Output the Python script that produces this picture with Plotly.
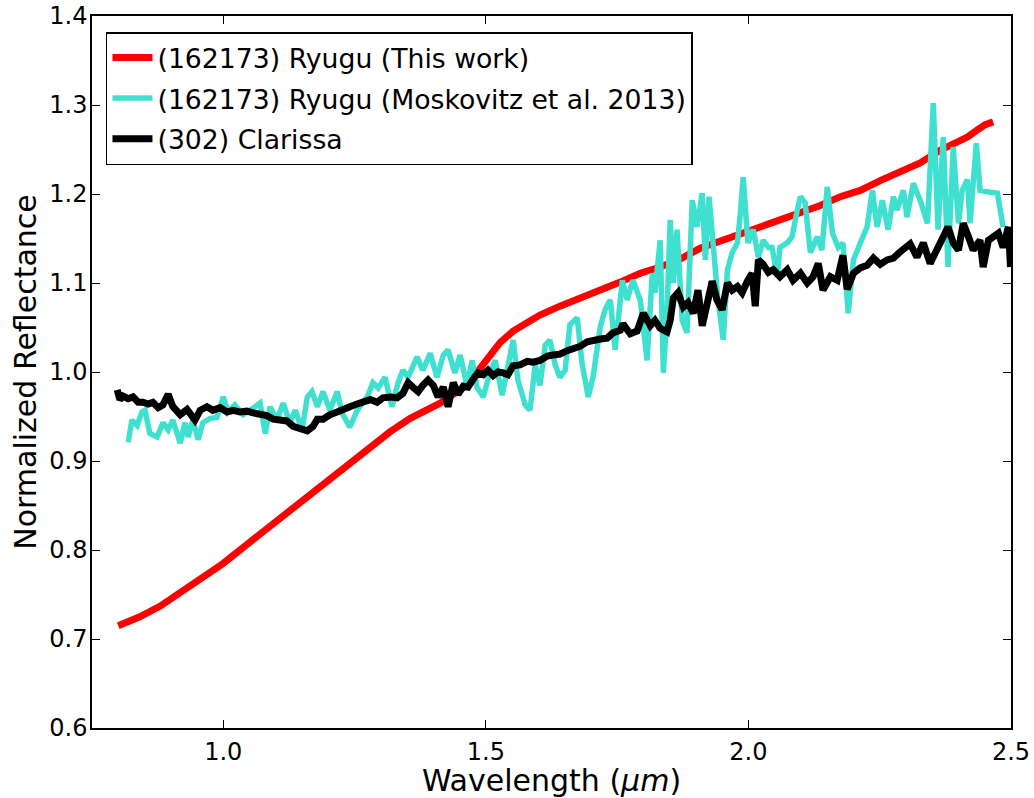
import plotly.graph_objects as go

# ---- data ----
ryugu_this_x = [0.800, 0.841, 0.880, 0.918, 0.956, 1.000, 1.051, 1.089, 1.127, 1.165, 1.203, 1.241,
                1.280, 1.318, 1.356, 1.384, 1.413, 1.451, 1.470, 1.489, 1.508, 1.527, 1.552, 1.579,
                1.603, 1.641, 1.680, 1.718, 1.756, 1.794, 1.832, 1.870, 1.908, 1.946, 1.984, 2.022,
                2.060, 2.099, 2.137, 2.175, 2.213, 2.251, 2.289, 2.327, 2.365, 2.394, 2.417, 2.436,
                2.451, 2.466]
ryugu_this_y = [0.715, 0.725, 0.737, 0.752, 0.767, 0.785, 0.809, 0.827, 0.845, 0.862, 0.880, 0.898,
                0.916, 0.933, 0.948, 0.957, 0.965, 0.980, 0.989, 1.004, 1.020, 1.033, 1.046, 1.056,
                1.064, 1.074, 1.084, 1.092, 1.101, 1.111, 1.118, 1.127, 1.139, 1.147, 1.153, 1.162,
                1.170, 1.178, 1.187, 1.197, 1.204, 1.215, 1.224, 1.235, 1.249, 1.257, 1.264, 1.272,
                1.278, 1.281]

ryugu_mosk_x = [0.819, 0.826, 0.836, 0.845, 0.851, 0.860, 0.874, 0.885, 0.895, 0.904, 0.918, 0.927,
                0.933, 0.942, 0.952, 0.961, 0.975, 0.988, 1.000, 1.009, 1.022, 1.038, 1.051, 1.070,
                1.080, 1.089, 1.102, 1.114, 1.127, 1.137, 1.150, 1.160, 1.169, 1.179, 1.190, 1.203,
                1.217, 1.226, 1.241, 1.255, 1.274, 1.285, 1.295, 1.308, 1.321, 1.333, 1.342, 1.352,
                1.369, 1.380, 1.394, 1.407, 1.419, 1.428, 1.441, 1.451, 1.464, 1.474, 1.483, 1.495,
                1.508, 1.518, 1.531, 1.540, 1.552, 1.561, 1.575, 1.584, 1.594, 1.603, 1.613, 1.622,
                1.632, 1.641, 1.651, 1.660, 1.674, 1.683, 1.695, 1.704, 1.718, 1.727, 1.737, 1.746,
                1.760, 1.769, 1.780, 1.794, 1.807, 1.817, 1.822, 1.832, 1.838, 1.845, 1.851, 1.857,
                1.864, 1.874, 1.883, 1.893, 1.902, 1.912, 1.918, 1.925, 1.933, 1.942, 1.952, 1.960,
                1.969, 1.979, 1.984, 1.990, 1.999, 2.009, 2.019, 2.028, 2.038, 2.045, 2.055, 2.060,
                2.074, 2.083, 2.093, 2.099, 2.108, 2.118, 2.131, 2.140, 2.150, 2.160, 2.171, 2.180,
                2.190, 2.200, 2.213, 2.226, 2.236, 2.245, 2.255, 2.266, 2.276, 2.283, 2.295, 2.302,
                2.314, 2.327, 2.341, 2.352, 2.361, 2.371, 2.380, 2.390, 2.400, 2.407, 2.417, 2.422,
                2.434, 2.441, 2.460, 2.474, 2.485]
ryugu_mosk_y = [0.921, 0.946, 0.940, 0.955, 0.957, 0.931, 0.927, 0.943, 0.935, 0.946, 0.920, 0.943,
                0.927, 0.946, 0.924, 0.943, 0.948, 0.949, 0.972, 0.955, 0.963, 0.952, 0.957, 0.965,
                0.931, 0.961, 0.946, 0.965, 0.943, 0.957, 0.935, 0.972, 0.978, 0.961, 0.978, 0.957,
                0.978, 0.954, 0.938, 0.957, 0.972, 0.988, 0.982, 0.994, 0.961, 0.988, 1.002, 0.994,
                1.017, 1.002, 1.021, 0.994, 1.019, 1.025, 0.999, 1.019, 0.985, 1.013, 0.983, 0.972,
                1.000, 1.013, 0.974, 1.000, 1.036, 0.991, 0.963, 0.957, 1.008, 0.985, 1.030, 1.036,
                1.008, 0.994, 1.002, 1.053, 1.061, 1.010, 0.972, 0.994, 1.051, 1.070, 1.081, 1.025,
                1.103, 1.081, 1.103, 1.081, 1.013, 1.111, 1.089, 1.148, 0.999, 1.066, 1.171, 1.100,
                1.160, 1.058, 1.044, 1.193, 1.163, 1.201, 1.126, 1.197, 1.134, 1.081, 1.036, 1.115,
                1.134, 1.145, 1.174, 1.219, 1.145, 1.160, 1.129, 1.148, 1.140, 1.140, 1.107, 1.140,
                1.145, 1.152, 1.182, 1.197, 1.190, 1.134, 1.152, 1.137, 1.208, 1.156, 1.140, 1.145,
                1.066, 1.126, 1.145, 1.163, 1.204, 1.163, 1.193, 1.160, 1.197, 1.182, 1.204, 1.174,
                1.212, 1.193, 1.167, 1.302, 1.160, 1.264, 1.118, 1.253, 1.167, 1.204, 1.216, 1.167,
                1.257, 1.204, 1.202, 1.201, 1.163]

clarissa_x = [0.798, 0.803, 0.809, 0.819, 0.828, 0.838, 0.847, 0.857, 0.866, 0.876, 0.885, 0.895,
              0.904, 0.918, 0.931, 0.946, 0.956, 0.969, 0.980, 0.994, 1.007, 1.019, 1.032, 1.045,
              1.057, 1.070, 1.083, 1.095, 1.108, 1.121, 1.133, 1.146, 1.152, 1.160, 1.171, 1.179,
              1.190, 1.203, 1.217, 1.228, 1.241, 1.255, 1.266, 1.280, 1.293, 1.304, 1.318, 1.331,
              1.342, 1.352, 1.361, 1.371, 1.380, 1.390, 1.400, 1.409, 1.419, 1.428, 1.438, 1.447,
              1.457, 1.466, 1.476, 1.485, 1.495, 1.504, 1.514, 1.523, 1.533, 1.542, 1.552, 1.565,
              1.579, 1.590, 1.603, 1.617, 1.628, 1.641, 1.655, 1.666, 1.680, 1.693, 1.704, 1.718,
              1.731, 1.742, 1.756, 1.761, 1.775, 1.788, 1.800, 1.813, 1.822, 1.832, 1.845, 1.851,
              1.857, 1.866, 1.876, 1.885, 1.895, 1.904, 1.912, 1.921, 1.931, 1.940, 1.950, 1.960,
              1.969, 1.979, 1.988, 1.998, 2.007, 2.013, 2.019, 2.028, 2.038, 2.047, 2.060, 2.074,
              2.085, 2.099, 2.112, 2.123, 2.133, 2.142, 2.156, 2.169, 2.180, 2.188, 2.200, 2.213,
              2.226, 2.238, 2.251, 2.264, 2.276, 2.289, 2.299, 2.308, 2.321, 2.333, 2.346, 2.360,
              2.371, 2.380, 2.390, 2.400, 2.409, 2.419, 2.428, 2.441, 2.447, 2.457, 2.466, 2.476,
              2.485, 2.495, 2.499]
clarissa_y = [0.980, 0.969, 0.973, 0.970, 0.972, 0.966, 0.966, 0.964, 0.966, 0.960, 0.963, 0.975,
              0.961, 0.952, 0.958, 0.946, 0.957, 0.961, 0.957, 0.960, 0.955, 0.957, 0.955, 0.956,
              0.954, 0.952, 0.951, 0.947, 0.945, 0.945, 0.939, 0.936, 0.935, 0.934, 0.939, 0.947,
              0.947, 0.952, 0.955, 0.957, 0.961, 0.964, 0.966, 0.969, 0.966, 0.971, 0.972, 0.971,
              0.976, 0.988, 0.983, 0.978, 0.985, 0.991, 0.985, 0.972, 0.983, 0.961, 0.988, 0.975,
              0.984, 0.983, 0.992, 0.999, 0.997, 1.002, 0.996, 1.000, 0.999, 0.997, 1.007, 1.008,
              1.012, 1.011, 1.013, 1.018, 1.019, 1.020, 1.024, 1.026, 1.029, 1.034, 1.036, 1.037,
              1.038, 1.044, 1.047, 1.054, 1.043, 1.046, 1.066, 1.052, 1.058, 1.049, 1.045, 1.058,
              1.083, 1.089, 1.073, 1.078, 1.066, 1.092, 1.052, 1.078, 1.102, 1.081, 1.070, 1.100,
              1.092, 1.096, 1.089, 1.102, 1.111, 1.074, 1.126, 1.121, 1.112, 1.115, 1.107, 1.115,
              1.103, 1.111, 1.100, 1.107, 1.122, 1.092, 1.107, 1.103, 1.131, 1.093, 1.111, 1.117,
              1.120, 1.128, 1.121, 1.126, 1.128, 1.135, 1.139, 1.144, 1.129, 1.145, 1.122, 1.137,
              1.152, 1.163, 1.145, 1.137, 1.167, 1.152, 1.137, 1.148, 1.118, 1.148, 1.152, 1.156,
              1.140, 1.163, 1.118]

series_names = ["(162173) Ryugu (This work)",
                "(162173) Ryugu (Moskovitz et al. 2013)",
                "(302) Clarissa"]
series_colors = ["#ff0000", "#40e0d0", "#000000"]

x_ticks = [1.0, 1.5, 2.0, 2.5]
y_ticks = [0.6, 0.7, 0.8, 0.9, 1.0, 1.1, 1.2, 1.3, 1.4]

FONT = "DejaVu Sans"

fig = go.Figure()
data_sets = [(ryugu_this_x, ryugu_this_y, 7),
             (ryugu_mosk_x, ryugu_mosk_y, 5.5),
             (clarissa_x, clarissa_y, 7)]
for i, ((xs, ys, w), name, col) in enumerate(zip(data_sets, series_names, series_colors)):
    fig.add_trace(go.Scatter(x=xs, y=ys, mode="lines", name=name,
                             legendgroup=f"g{i}",
                             line=dict(color=col, width=w)))

axis_common = dict(showgrid=False, zeroline=False, showline=True, linecolor="black",
                   linewidth=1.5, mirror="ticks", ticks="inside", ticklen=8, tickwidth=1,
                   tickcolor="black", tickfont=dict(family=FONT, size=24, color="black"),
                   ticklabeloverflow="allow", automargin=False)

fig.update_layout(
    width=1034, height=798,
    margin=dict(l=92, r=23, t=16, b=70),
    paper_bgcolor="white", plot_bgcolor="white",
    font=dict(family=FONT, color="black"),
    showlegend=True,
    legend=dict(x=0.0152, y=0.9775, xanchor="left", yanchor="top",
                bordercolor="black", borderwidth=1.5, bgcolor="white",
                font=dict(family=FONT, size=26.7, color="black"),
                itemwidth=40,
                traceorder="grouped", tracegroupgap=3),
    xaxis=dict(range=[0.75, 2.5], tickvals=x_ticks, tickformat=".1f",
               ticklabelstandoff=1,
               title=dict(text="Wavelength (<i>μm</i>)", font=dict(family=FONT, size=30),
                          standoff=10),
               **axis_common),
    yaxis=dict(range=[0.6, 1.4], tickvals=y_ticks, tickformat=".1f",
               ticklabelstandoff=-2,
               title=dict(text="Normalized Reflectance", font=dict(family=FONT, size=30),
                          standoff=4),
               **axis_common),
)

# remove the default page margin so the figure fills the 1034x798 window exactly
fig.write_html("out.html",
               config={"displayModeBar": False},
               post_script="document.body.style.margin='0';document.body.style.padding='0';")
